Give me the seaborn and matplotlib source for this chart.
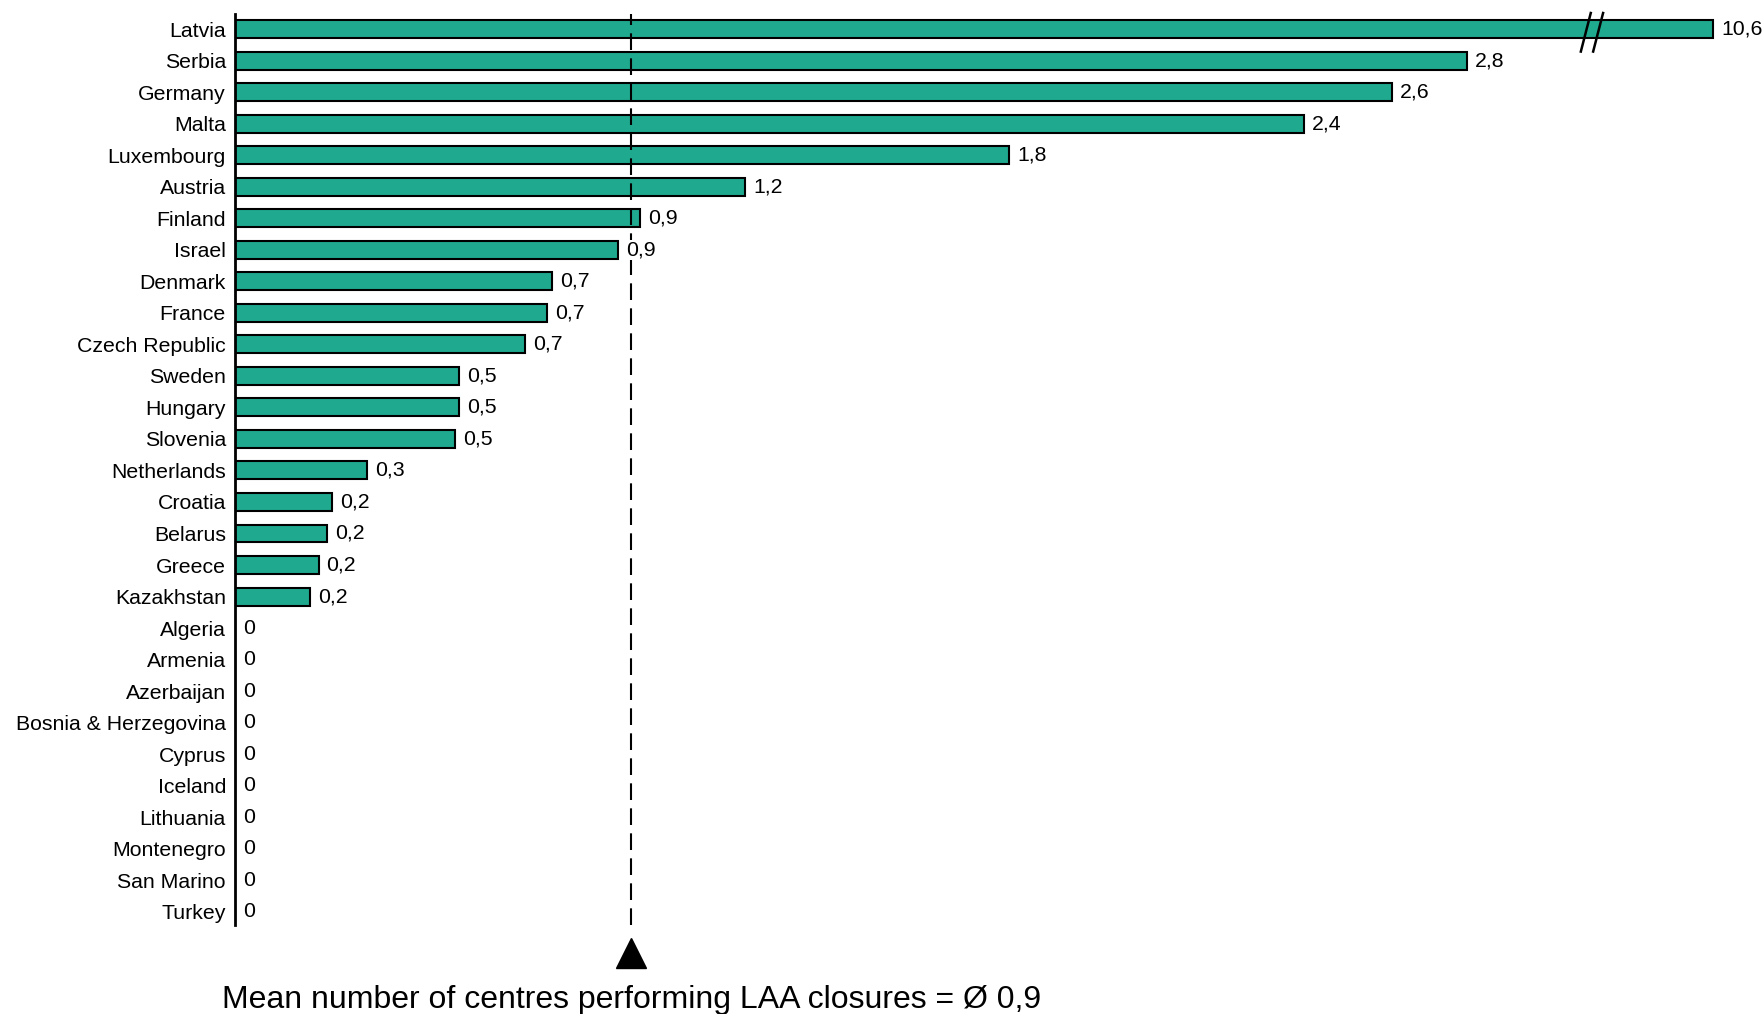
import numpy as np
import pandas as pd
import matplotlib
matplotlib.use("Agg")
import matplotlib.pyplot as plt
import seaborn as sns

countries = ["Latvia", "Serbia", "Germany", "Malta", "Luxembourg", "Austria", "Finland",
             "Israel", "Denmark", "France", "Czech Republic", "Sweden", "Hungary", "Slovenia",
             "Netherlands", "Croatia", "Belarus", "Greece", "Kazakhstan", "Algeria", "Armenia",
             "Azerbaijan", "Bosnia & Herzegovina", "Cyprus", "Iceland", "Lithuania",
             "Montenegro", "San Marino", "Turkey"]
values = [10.6, 2.8, 2.63, 2.43, 1.76, 1.16, 0.92, 0.87, 0.72, 0.71, 0.66, 0.51, 0.51, 0.50,
          0.30, 0.22, 0.21, 0.19, 0.17, 0, 0, 0, 0, 0, 0, 0, 0, 0, 0]
mean_value = 0.9
axis_cap = 3.36      # broken-axis display length for values beyond the break
break_at = 3.07

sns.set_theme(style="white")
plt.rcParams["font.family"] = ["Liberation Sans", "DejaVu Sans"]
plt.rcParams["text.color"] = "black"

df = pd.DataFrame({"country": countries, "value": values})
df["shown"] = np.minimum(df["value"], axis_cap)

fig = plt.figure(figsize=(17.64, 10.14), dpi=100)
ax = fig.add_axes([235 / 1764, 1 - 925 / 1014, 1 - 235 / 1764, (925 - 14) / 1014])

sns.barplot(data=df, x="shown", y="country", orient="h", color="#1FA98F", saturation=1,
            edgecolor="black", linewidth=1.5, width=0.57, ax=ax)

ax.set_xlim(0, 1529 / 440)
ax.set_ylim(len(countries) - 1 + 0.42, -0.48)
ax.set_xlabel("")
ax.set_ylabel("")
ax.set_xticks([])
for s in ["top", "right", "bottom"]:
    ax.spines[s].set_visible(False)
ax.spines["left"].set_linewidth(2)
ax.spines["left"].set_color("black")
ax.spines["left"].set_zorder(6)
ax.tick_params(axis="y", length=0, pad=6.5, labelsize=15.3, labelcolor="black")

def fmt(v):
    r = round(v, 1)
    if r == 0:
        return "0"
    return f"{r:.1f}".replace(".", ",")

# mean line (drawn over the bars)
ax.axvline(mean_value, color="black", lw=1.5, dashes=(8, 4), zorder=4)
ax.plot([mean_value], [len(countries) - 1 + 1.3], marker="^", markersize=22, color="black",
        clip_on=False, linestyle="none")

for i, (v, s) in enumerate(zip(df["value"], df["shown"])):
    ax.text(s + 0.018, i, fmt(v), va="center", ha="left", fontsize=15.3, color="black",
            zorder=5, bbox=dict(facecolor="white", edgecolor="none", pad=0.5))

# break marks on Latvia bar
for dx in [0, 0.028]:
    ax.plot([break_at + dx - 0.012, break_at + dx + 0.012], [0.75, -0.55], color="black",
            lw=1.8, clip_on=False, solid_capstyle="butt", zorder=5)

fig.text(632 / 1764, 1 - 1008 / 1014, "Mean number of centres performing LAA closures = Ø 0,9",
         ha="center", va="baseline", fontsize=23, color="black")

fig.savefig("out.png", dpi=100)
